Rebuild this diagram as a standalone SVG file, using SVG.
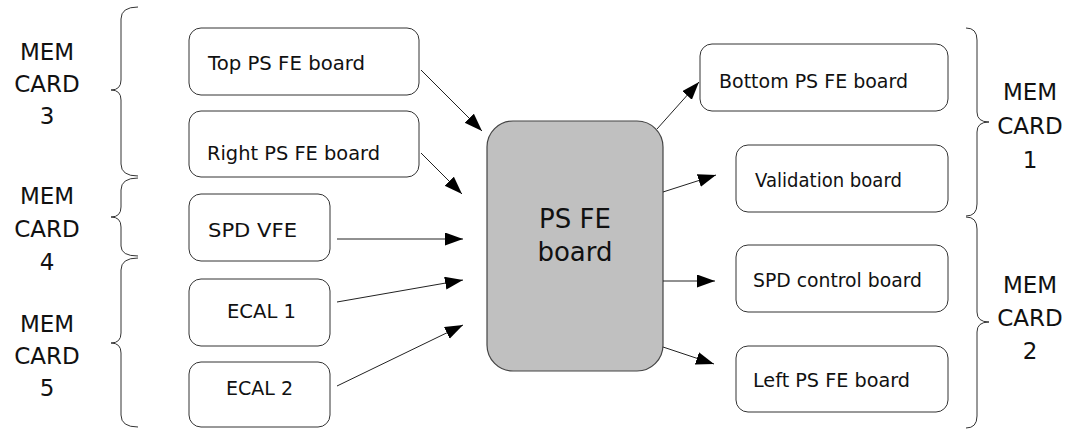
<svg xmlns="http://www.w3.org/2000/svg" width="1078" height="429" viewBox="0 0 1078 429">
<style>
.box{fill:#fff;stroke:#333;stroke-width:1}
.core{fill:#c0c0c0;stroke:#444;stroke-width:1.2}
.t{font-family:"DejaVu Sans","Liberation Sans",sans-serif;font-size:20px;fill:#111}
.big{font-family:"DejaVu Sans","Liberation Sans",sans-serif;font-size:26px;fill:#111;text-anchor:middle}
.mem{font-family:"DejaVu Sans","Liberation Sans",sans-serif;font-size:23px;fill:#111;text-anchor:middle}
.br{fill:none;stroke:#333;stroke-width:1}
.c{stroke:#222;stroke-width:1;fill:none;marker-end:url(#ah)}
</style>
<defs>
<marker id="ah" markerUnits="userSpaceOnUse" markerWidth="20" markerHeight="14" refX="18" refY="6.5" orient="auto">
<path d="M0,0 L18,6.5 L0,13 Z" fill="#000"/>
</marker>
</defs>
<rect width="1078" height="429" fill="#fff"/>

<g id="brace-mem3">
<path class="br" d="M138,7 Q121,7 121,19 L121,80 Q121,90 111,90 Q121,90 121,100 L121,164 Q121,176 138,176"/>
<text class="mem" x="47" y="60">MEM</text>
<text class="mem" x="47" y="92">CARD</text>
<text class="mem" x="47" y="124">3</text>
</g>
<g id="brace-mem4">
<path class="br" d="M138,178 Q121,178 121,190 L121,207 Q121,217 111,217 Q121,217 121,227 L121,246 Q121,256 138,256"/>
<text class="mem" x="47" y="204">MEM</text>
<text class="mem" x="47" y="237">CARD</text>
<text class="mem" x="47" y="270">4</text>
</g>
<g id="brace-mem5">
<path class="br" d="M138,258 Q121,258 121,270 L121,333 Q121,343 111,343 Q121,343 121,353 L121,415 Q121,427 138,427"/>
<text class="mem" x="47" y="332">MEM</text>
<text class="mem" x="47" y="364">CARD</text>
<text class="mem" x="47" y="396">5</text>
</g>
<g id="brace-mem1">
<path class="br" d="M966,28 Q977,28 977,40 L977,112 Q977,122 989,122 Q977,122 977,132 L977,204 Q977,216 966,216"/>
<text class="mem" x="1030" y="100">MEM</text>
<text class="mem" x="1030" y="134">CARD</text>
<text class="mem" x="1030" y="168">1</text>
</g>
<g id="brace-mem2">
<path class="br" d="M966,217 Q977,217 977,229 L977,312 Q977,322 989,322 Q977,322 977,332 L977,416 Q977,428 966,428"/>
<text class="mem" x="1030" y="293">MEM</text>
<text class="mem" x="1030" y="326">CARD</text>
<text class="mem" x="1030" y="359">2</text>
</g>

<g id="top-ps-fe">
<rect class="box" x="189" y="28" width="230" height="67" rx="12"/>
<text class="t" x="208" y="70" textLength="157" lengthAdjust="spacingAndGlyphs">Top PS FE board</text>
</g>
<g id="right-ps-fe">
<rect class="box" x="189" y="111" width="230" height="66" rx="12"/>
<text class="t" x="207" y="160" textLength="173" lengthAdjust="spacingAndGlyphs">Right PS FE board</text>
</g>
<g id="spd-vfe">
<rect class="box" x="189" y="194" width="141" height="67" rx="12"/>
<text class="t" x="208" y="237" textLength="89" lengthAdjust="spacingAndGlyphs">SPD VFE</text>
</g>
<g id="ecal1">
<rect class="box" x="189" y="279" width="141" height="67" rx="12"/>
<text class="t" x="227" y="318" textLength="69" lengthAdjust="spacingAndGlyphs">ECAL 1</text>
</g>
<g id="ecal2">
<rect class="box" x="189" y="362" width="141" height="65" rx="12"/>
<text class="t" x="226" y="395" textLength="67" lengthAdjust="spacingAndGlyphs">ECAL 2</text>
</g>

<g id="ps-fe-board">
<rect class="core" x="487" y="121" width="176" height="250" rx="26"/>
<text class="big" x="575" y="228">PS FE</text>
<text class="big" x="575" y="261">board</text>
</g>

<g id="bottom-ps-fe">
<rect class="box" x="700" y="44" width="248" height="67" rx="12"/>
<text class="t" x="719" y="88" textLength="189" lengthAdjust="spacingAndGlyphs">Bottom PS FE board</text>
</g>
<g id="validation">
<rect class="box" x="736" y="145" width="212" height="67" rx="12"/>
<text class="t" x="755" y="187" textLength="147" lengthAdjust="spacingAndGlyphs">Validation board</text>
</g>
<g id="spd-control">
<rect class="box" x="736" y="245" width="212" height="67" rx="12"/>
<text class="t" x="753" y="287" textLength="169" lengthAdjust="spacingAndGlyphs">SPD control board</text>
</g>
<g id="left-ps-fe">
<rect class="box" x="736" y="346" width="212" height="66" rx="12"/>
<text class="t" x="753" y="387" textLength="157" lengthAdjust="spacingAndGlyphs">Left PS FE board</text>
</g>

<g id="connectors">
<line class="c" x1="421" y1="70" x2="482" y2="131"/>
<line class="c" x1="421" y1="153" x2="462" y2="194"/>
<line class="c" x1="337" y1="239" x2="463" y2="239"/>
<line class="c" x1="337" y1="302" x2="463" y2="280"/>
<line class="c" x1="337" y1="386" x2="463" y2="325"/>
<line class="c" x1="657" y1="129" x2="699" y2="82"/>
<line class="c" x1="663" y1="192" x2="716" y2="175"/>
<line class="c" x1="663" y1="281" x2="715" y2="281"/>
<line class="c" x1="663" y1="347" x2="714" y2="364"/>
</g>
</svg>
